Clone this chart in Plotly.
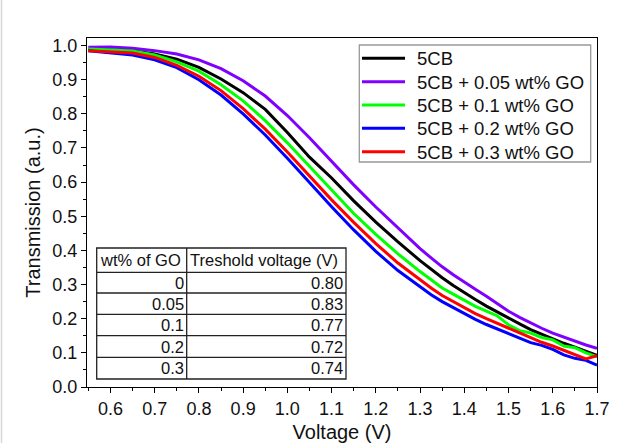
import plotly.graph_objects as go

# ---------------- data ----------------
voltage = [0.55, 0.60, 0.65, 0.70, 0.75, 0.80, 0.85, 0.90, 0.95, 1.00, 1.05, 1.10,
           1.15, 1.20, 1.25, 1.30, 1.325, 1.35, 1.375, 1.40, 1.425, 1.45, 1.475, 1.50,
           1.525, 1.55, 1.575, 1.60, 1.625, 1.65, 1.675, 1.70]

t_5cb = [0.990, 0.988, 0.985, 0.975, 0.960, 0.936, 0.902, 0.862, 0.813, 0.745, 0.673, 0.612,
         0.545, 0.483, 0.425, 0.370, 0.344, 0.320, 0.297, 0.276, 0.256, 0.237, 0.219, 0.202,
         0.185, 0.168, 0.154, 0.141, 0.128, 0.117, 0.105, 0.093]
t_005 = [0.995, 0.996, 0.992, 0.985, 0.975, 0.958, 0.932, 0.897, 0.852, 0.795, 0.730, 0.660,
         0.592, 0.527, 0.465, 0.405, 0.378, 0.352, 0.329, 0.307, 0.286, 0.266, 0.243, 0.222,
         0.204, 0.187, 0.172, 0.158, 0.146, 0.134, 0.123, 0.113]
t_01 = [0.990, 0.988, 0.984, 0.972, 0.952, 0.925, 0.885, 0.838, 0.780, 0.715, 0.645, 0.575,
        0.508, 0.447, 0.390, 0.338, 0.313, 0.290, 0.272, 0.254, 0.236, 0.222, 0.208, 0.182,
        0.165, 0.158, 0.145, 0.138, 0.120, 0.115, 0.100, 0.088]
t_02 = [0.985, 0.978, 0.972, 0.958, 0.935, 0.900, 0.855, 0.800, 0.738, 0.670, 0.598, 0.528,
        0.460, 0.397, 0.341, 0.292, 0.270, 0.250, 0.232, 0.215, 0.198, 0.183, 0.170, 0.156,
        0.143, 0.130, 0.122, 0.110, 0.094, 0.084, 0.078, 0.064]
t_03 = [0.985, 0.982, 0.978, 0.965, 0.942, 0.910, 0.868, 0.815, 0.755, 0.688, 0.618, 0.548,
        0.482, 0.420, 0.363, 0.313, 0.290, 0.268, 0.250, 0.232, 0.215, 0.200, 0.186, 0.172,
        0.158, 0.145, 0.131, 0.120, 0.108, 0.096, 0.082, 0.092]

series_names = ["5CB", "5CB + 0.05 wt% GO", "5CB + 0.1 wt% GO",
                "5CB + 0.2 wt% GO", "5CB + 0.3 wt% GO"]
series_values = [t_5cb, t_005, t_01, t_02, t_03]
series_colors = ["#000000", "#8000FF", "#00FF00", "#0000FF", "#FF0000"]

table_header = ["wt% of GO", "Treshold voltage (V)"]
table_go = ["0", "0.05", "0.1", "0.2", "0.3"]
table_vth = ["0.80", "0.83", "0.77", "0.72", "0.74"]

x_ticks = [0.6, 0.7, 0.8, 0.9, 1.0, 1.1, 1.2, 1.3, 1.4, 1.5, 1.6, 1.7]
y_ticks = [0.0, 0.1, 0.2, 0.3, 0.4, 0.5, 0.6, 0.7, 0.8, 0.9, 1.0]

# ---------------- layout geometry (pixels) ----------------
W, H = 618, 443
L, R, T, B = 87, 21, 38, 56
PW, PH = W - L - R, H - T - B
FONT = "Arial, Liberation Sans, sans-serif"
TXT = "#111111"


def px_x(px):
    return (px - L) / PW


def px_y(py):
    return (H - B - py) / PH


fig = go.Figure()
for name, vals, col in zip(series_names, series_values, series_colors):
    fig.add_trace(go.Scatter(x=voltage, y=vals, mode="lines", name=name,
                             line=dict(color=col, width=3), showlegend=False))

shapes = []
annotations = []

# ---- legend box (drawn to match the original's compact spacing) ----
leg_l, leg_r, leg_t, leg_b = 359.3, 590.7, 45.0, 162.0
row0, row_step = 58.3, 23.35
shapes.append(dict(type="rect", xref="paper", yref="paper",
                   x0=px_x(leg_l), x1=px_x(leg_r), y0=px_y(leg_b), y1=px_y(leg_t),
                   line=dict(color="#999999", width=1.3), fillcolor="white", layer="above"))
for i, (name, col) in enumerate(zip(series_names, series_colors)):
    cy = row0 + i * row_step
    shapes.append(dict(type="line", xref="paper", yref="paper",
                       x0=px_x(362), x1=px_x(405), y0=px_y(cy), y1=px_y(cy),
                       line=dict(color=col, width=3), layer="above"))
    annotations.append(dict(xref="paper", yref="paper", x=px_x(415), y=px_y(cy + 0.5),
                            text=name, showarrow=False, xanchor="left", yanchor="middle",
                            font=dict(family=FONT, size=18.5, color=TXT)))

# ---- table drawn with shapes + annotations ----
tab_left, tab_mid, tab_right = 96.7, 186.7, 346.0
row_lines = [248.0, 272.3, 293.0, 314.3, 335.7, 357.3, 379.0]
tab_line = dict(color="#222222", width=1.3)
shapes.append(dict(type="rect", xref="paper", yref="paper",
                   x0=px_x(tab_left), x1=px_x(tab_right),
                   y0=px_y(row_lines[-1]), y1=px_y(row_lines[0]),
                   line=tab_line, fillcolor="white", layer="above"))
shapes.append(dict(type="line", xref="paper", yref="paper",
                   x0=px_x(tab_mid), x1=px_x(tab_mid),
                   y0=px_y(row_lines[-1]), y1=px_y(row_lines[0]),
                   line=tab_line, layer="above"))
for ry in row_lines[1:-1]:
    shapes.append(dict(type="line", xref="paper", yref="paper",
                       x0=px_x(tab_left), x1=px_x(tab_right),
                       y0=px_y(ry), y1=px_y(ry), line=tab_line, layer="above"))
# faint page border on the left edge
shapes.append(dict(type="line", xref="paper", yref="paper",
                   x0=px_x(1.5), x1=px_x(1.5), y0=px_y(H), y1=px_y(0),
                   line=dict(color="#d8d8d8", width=1.5), layer="above"))

tfont = dict(family=FONT, size=16.5, color=TXT)
hc = (row_lines[0] + row_lines[1]) / 2
annotations.append(dict(xref="paper", yref="paper", x=px_x(tab_left + 1), y=px_y(hc),
                        text=table_header[0], showarrow=False, xanchor="left",
                        yanchor="middle", font=tfont))
annotations.append(dict(xref="paper", yref="paper", x=px_x(tab_mid + 1), y=px_y(hc),
                        text=table_header[1], showarrow=False, xanchor="left",
                        yanchor="middle", font=tfont))
for i, (g, v) in enumerate(zip(table_go, table_vth)):
    cy = (row_lines[i + 1] + row_lines[i + 2]) / 2
    annotations.append(dict(xref="paper", yref="paper", x=px_x(tab_mid - 1), y=px_y(cy),
                            text=g, showarrow=False, xanchor="right", yanchor="middle",
                            font=tfont))
    annotations.append(dict(xref="paper", yref="paper", x=px_x(tab_right - 1), y=px_y(cy),
                            text=v, showarrow=False, xanchor="right", yanchor="middle",
                            font=tfont))

axis_common = dict(showline=True, linecolor="black", linewidth=1.3, mirror=True,
                   ticks="outside", ticklen=5, tickcolor="black", tickwidth=1.3,
                   showgrid=False, zeroline=False, automargin=False,
                   tickfont=dict(family=FONT, size=18, color=TXT),
                   minor=dict(ticks="outside", ticklen=3, tickcolor="black", tickwidth=1.3,
                              showgrid=False))

fig.update_xaxes(range=[0.547, 1.7], tickvals=x_ticks, tickformat=".1f",
                 minor_dtick=0.05, minor_tick0=0.55,
                 title=dict(text="Voltage (V)", font=dict(family=FONT, size=20, color=TXT),
                            standoff=8),
                 **axis_common)
fig.update_yaxes(range=[0, 1.022], tickvals=y_ticks, tickformat=".1f",
                 minor_dtick=0.05, minor_tick0=0.05,
                 title=dict(text="Transmission (a.u.)",
                            font=dict(family=FONT, size=20, color=TXT), standoff=6),
                 **axis_common)

fig.update_layout(
    width=W, height=H,
    margin=dict(l=L, r=R, t=T, b=B),
    paper_bgcolor="white", plot_bgcolor="white",
    font=dict(family=FONT),
    shapes=shapes, annotations=annotations,
    showlegend=False,
)

fig.write_html("out.html", config={"displayModeBar": False},
               post_script="document.body.style.margin='0';document.body.style.overflow='hidden';")
